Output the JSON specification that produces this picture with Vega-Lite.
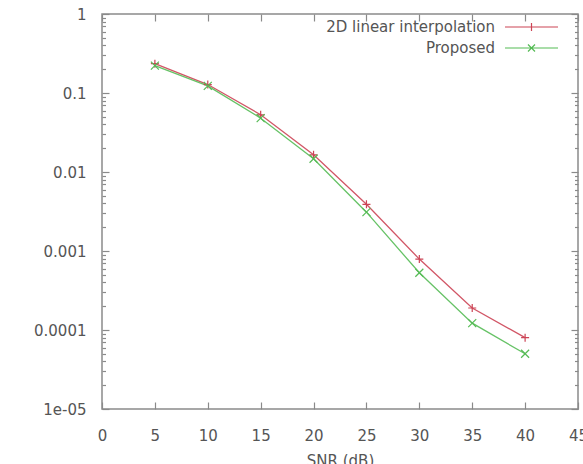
{
  "$schema": "https://vega.github.io/schema/vega-lite/v6.json",
  "width": 476,
  "height": 395,
  "autosize": {"type": "none"},
  "padding": {"left": 102, "top": 14, "right": 5, "bottom": 55},
  "background": "white",
  "config": {
    "view": {"stroke": "#8a8a8a", "strokeWidth": 1.5},
    "font": "DejaVu Sans",
    "axis": {
      "labelFont": "DejaVu Sans",
      "labelFontSize": 15,
      "labelColor": "#555555",
      "titleFont": "DejaVu Sans",
      "titleFontSize": 15,
      "titleFontWeight": "normal",
      "titleColor": "#555555",
      "domain": false,
      "grid": false,
      "tickColor": "#8a8a8a",
      "tickWidth": 1.2,
      "labelOverlap": false,
      "labelFlush": false
    },
    "legend": {
      "orient": "none",
      "legendX": 422,
      "legendY": 5.5,
      "padding": 0,
      "offset": 0,
      "labelFont": "DejaVu Sans",
      "labelFontSize": 15,
      "labelColor": "#555555",
      "labelAlign": "right",
      "labelOffset": -44,
      "symbolSize": 100,
      "symbolStrokeWidth": 1.2,
      "symbolOpacity": 1,
      "symbolFillColor": "transparent",
      "rowPadding": 5,
      "labelLimit": 400
    }
  },
  "data": {
    "values": [
      {"snr": 5, "ber": 0.235, "series": "2D linear interpolation"},
      {"snr": 10, "ber": 0.128, "series": "2D linear interpolation"},
      {"snr": 15, "ber": 0.053, "series": "2D linear interpolation"},
      {"snr": 20, "ber": 0.0165, "series": "2D linear interpolation"},
      {"snr": 25, "ber": 0.0039, "series": "2D linear interpolation"},
      {"snr": 30, "ber": 0.00079, "series": "2D linear interpolation"},
      {"snr": 35, "ber": 0.00019, "series": "2D linear interpolation"},
      {"snr": 40, "ber": 0.00008, "series": "2D linear interpolation"},
      {"snr": 5, "ber": 0.222, "series": "Proposed"},
      {"snr": 10, "ber": 0.123, "series": "Proposed"},
      {"snr": 15, "ber": 0.048, "series": "Proposed"},
      {"snr": 20, "ber": 0.0147, "series": "Proposed"},
      {"snr": 25, "ber": 0.0031, "series": "Proposed"},
      {"snr": 30, "ber": 0.00053, "series": "Proposed"},
      {"snr": 35, "ber": 0.000122, "series": "Proposed"},
      {"snr": 40, "ber": 0.00005, "series": "Proposed"}
    ]
  },
  "layer": [
    {
      "mark": {"type": "line", "strokeWidth": 1.3, "opacity": 0.9},
      "encoding": {
        "x": {
          "field": "snr", "type": "quantitative",
          "scale": {"domain": [0, 45], "nice": false, "zero": false},
          "axis": {
            "orient": "bottom",
            "title": "SNR (dB)",
            "values": [0, 5, 10, 15, 20, 25, 30, 35, 40, 45],
            "tickSize": -7,
            "labelPadding": 26,
            "titlePadding": 10
          }
        },
        "y": {
          "field": "ber", "type": "quantitative",
          "scale": {"type": "log", "domain": [0.00001, 1], "nice": false},
          "axis": {
            "orient": "left",
            "title": null,
            "values": [0.00001, 0.00002, 0.00003, 0.00004, 0.00005, 0.00006, 0.00007, 0.00008, 0.00009, 0.0001, 0.0002, 0.0003, 0.0004, 0.0005, 0.0006, 0.0007, 0.0008, 0.0009, 0.001, 0.002, 0.003, 0.004, 0.005, 0.006, 0.007, 0.008, 0.009, 0.01, 0.02, 0.03, 0.04, 0.05, 0.06, 0.07, 0.08, 0.09, 0.1, 0.2, 0.3, 0.4, 0.5, 0.6, 0.7, 0.8, 0.9, 1],
            "labelExpr": "datum.value == 1 ? '1' : datum.value == 0.1 ? '0.1' : datum.value == 0.01 ? '0.01' : datum.value == 0.001 ? '0.001' : datum.value == 0.0001 ? '0.0001' : datum.value == 0.00001 ? '1e-05' : ''",
            "tickSize": {"condition": {"test": "indexof([1, 0.1, 0.01, 0.001, 0.0001, 0.00001], datum.value) >= 0", "value": -7}, "value": -3.5},
            "labelPadding": 23
          }
        },
        "color": {
          "field": "series", "type": "nominal",
          "scale": {"domain": ["2D linear interpolation", "Proposed"], "range": ["#cc4455", "#55bb55"]}
        }
      }
    },
    {
      "transform": [{"filter": "datum.series === '2D linear interpolation'"}],
      "mark": {"type": "point", "filled": false, "size": 64, "strokeWidth": 1.2, "opacity": 1, "shape": "M-1,0H1M0,-1V1"},
      "encoding": {
        "x": {
          "field": "snr", "type": "quantitative",
          "axis": {
            "orient": "top",
            "title": null,
            "labels": false,
            "values": [0, 5, 10, 15, 20, 25, 30, 35, 40, 45],
            "tickSize": -7
          }
        },
        "y": {
          "field": "ber", "type": "quantitative",
          "axis": {
            "orient": "right",
            "title": null,
            "labels": false,
            "values": [0.00001, 0.00002, 0.00003, 0.00004, 0.00005, 0.00006, 0.00007, 0.00008, 0.00009, 0.0001, 0.0002, 0.0003, 0.0004, 0.0005, 0.0006, 0.0007, 0.0008, 0.0009, 0.001, 0.002, 0.003, 0.004, 0.005, 0.006, 0.007, 0.008, 0.009, 0.01, 0.02, 0.03, 0.04, 0.05, 0.06, 0.07, 0.08, 0.09, 0.1, 0.2, 0.3, 0.4, 0.5, 0.6, 0.7, 0.8, 0.9, 1],
            "tickSize": {"condition": {"test": "indexof([1, 0.1, 0.01, 0.001, 0.0001, 0.00001], datum.value) >= 0", "value": -7}, "value": -3.5}
          }
        },
        "color": {"field": "series", "type": "nominal"}
      }
    },
    {
      "transform": [{"filter": "datum.series === 'Proposed'"}],
      "mark": {"type": "point", "filled": false, "size": 64, "strokeWidth": 1.2, "opacity": 1, "shape": "M-1,-1L1,1M-1,1L1,-1"},
      "encoding": {
        "x": {"field": "snr", "type": "quantitative", "axis": null},
        "y": {"field": "ber", "type": "quantitative", "axis": null},
        "color": {"field": "series", "type": "nominal"}
      }
    },
    {
      "mark": {"type": "point", "filled": false, "size": 100, "strokeWidth": 1.2, "opacity": 0},
      "encoding": {
        "x": {"field": "snr", "type": "quantitative", "axis": null},
        "y": {"field": "ber", "type": "quantitative", "axis": null},
        "color": {
          "field": "series", "type": "nominal",
          "legend": {"title": null, "symbolOpacity": 1}
        },
        "shape": {
          "field": "series", "type": "nominal",
          "scale": {"domain": ["2D linear interpolation", "Proposed"], "range": ["M-5.3,0H5.3M0,-0.8V0.8", "M-5.3,0H5.3M-0.7,-0.7L0.7,0.7M-0.7,0.7L0.7,-0.7"]},
          "legend": {"title": null, "symbolOpacity": 1}
        }
      }
    }
  ],
  "resolve": {"axis": {"x": "independent", "y": "independent"}}
}
